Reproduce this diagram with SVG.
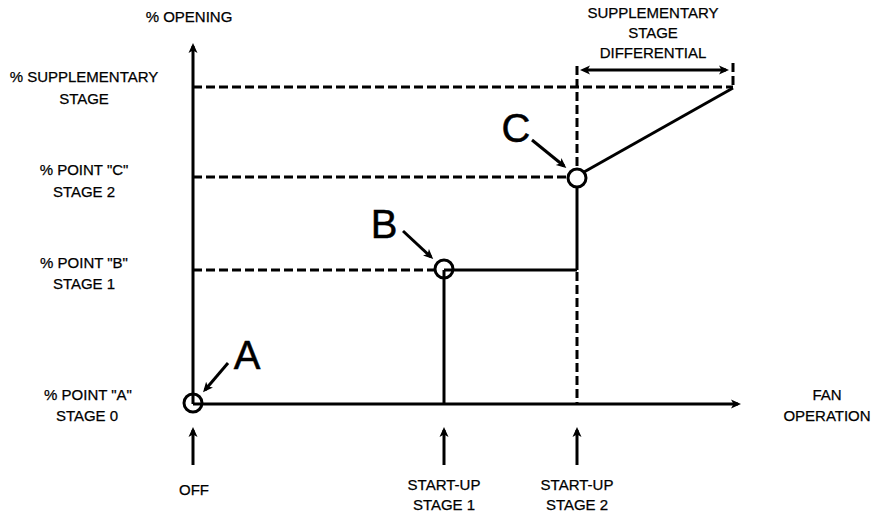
<svg xmlns="http://www.w3.org/2000/svg" width="878" height="512" viewBox="0 0 878 512">
<defs>
<marker id="ah" markerWidth="10" markerHeight="10" refX="7" refY="5" orient="auto" markerUnits="userSpaceOnUse"><path d="M0,0.5 L10,5 L0,9.5 L2.5,5 Z" fill="#000"/></marker>
<marker id="ahs" markerWidth="10" markerHeight="10" refX="3" refY="5" orient="auto-start-reverse" markerUnits="userSpaceOnUse"><path d="M0,0.5 L10,5 L0,9.5 L2.5,5 Z" fill="#000"/></marker>
</defs>
<style>
text{font-family:"Liberation Sans",Arial,sans-serif;font-size:15px;fill:#000;stroke:#000;stroke-width:0.25;text-anchor:middle}
.big{font-size:40px;stroke-width:0.5}
.solid{stroke:#000;stroke-width:3;fill:none}
.dash{stroke:#000;stroke-width:3;fill:none;stroke-dasharray:9,4}
.circ{stroke:#000;stroke-width:3;fill:none}
</style>
<rect width="878" height="512" fill="#fff"/>
<g id="connectors">
<line class="dash" x1="193" y1="87" x2="733" y2="87"/>
<line class="dash" x1="193" y1="177" x2="570" y2="177"/>
<line class="dash" x1="193" y1="270" x2="436" y2="270"/>
<line class="dash" x1="577" y1="66" x2="577" y2="168"/>
<line class="dash" x1="577" y1="272" x2="577" y2="404"/>
<line class="dash" x1="733" y1="63" x2="733" y2="87"/>
<line class="solid" x1="577" y1="186" x2="577" y2="270"/>
<line class="solid" x1="444" y1="270" x2="577" y2="270"/>
<line class="solid" x1="444" y1="270" x2="444" y2="404"/>
<line class="solid" x1="584" y1="172" x2="733" y2="88"/>
<line class="solid" x1="193" y1="404" x2="193" y2="46" marker-end="url(#ah)"/>
<line class="solid" x1="193" y1="404" x2="738" y2="404" marker-end="url(#ah)"/>
<line class="solid" x1="587" y1="70" x2="726" y2="70" marker-start="url(#ahs)" marker-end="url(#ah)"/>
<line class="solid" x1="228" y1="363" x2="205" y2="390" marker-end="url(#ah)"/>
<line class="solid" x1="403" y1="231" x2="431" y2="257" marker-end="url(#ah)"/>
<line class="solid" x1="532" y1="140" x2="564" y2="166" marker-end="url(#ah)"/>
<line class="solid" x1="193" y1="465" x2="193" y2="430" marker-end="url(#ah)"/>
<line class="solid" x1="444" y1="465" x2="444" y2="430" marker-end="url(#ah)"/>
<line class="solid" x1="577" y1="465" x2="577" y2="430" marker-end="url(#ah)"/>
</g>
<g id="pointA"><circle class="circ" cx="193" cy="403" r="9"/><text class="big" x="247" y="369">A</text></g>
<g id="pointB"><circle class="circ" cx="444" cy="269" r="9"/><text class="big" x="384" y="238">B</text></g>
<g id="pointC"><circle class="circ" cx="577" cy="178" r="9"/><text class="big" x="516" y="142">C</text></g>
<g id="labels">
<text x="189" y="22">% OPENING</text>
<text x="84" y="82">% SUPPLEMENTARY</text>
<text x="84" y="104">STAGE</text>
<text x="84" y="175">% POINT "C"</text>
<text x="84" y="197">STAGE 2</text>
<text x="84" y="268">% POINT "B"</text>
<text x="84" y="289">STAGE 1</text>
<text x="88" y="400">% POINT "A"</text>
<text x="87" y="421">STAGE 0</text>
<text x="194" y="495">OFF</text>
<text x="444" y="490">START-UP</text>
<text x="444" y="510">STAGE 1</text>
<text x="577" y="490">START-UP</text>
<text x="577" y="510">STAGE 2</text>
<text x="827" y="400">FAN</text>
<text x="827" y="421">OPERATION</text>
<text x="653" y="18">SUPPLEMENTARY</text>
<text x="653" y="38">STAGE</text>
<text x="653" y="58">DIFFERENTIAL</text>
</g>
</svg>
